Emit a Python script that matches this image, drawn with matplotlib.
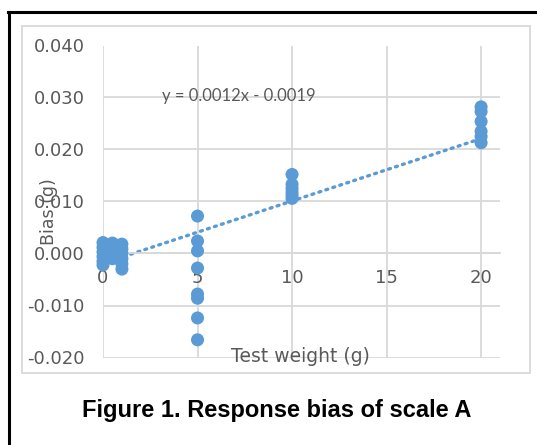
import matplotlib
matplotlib.use("Agg")
import matplotlib.pyplot as plt
from matplotlib.lines import Line2D
from matplotlib.patches import Rectangle
import numpy as np

# ---- data ----
x_w0 = [0, 0, 0, 0, 0, 0]
y_w0 = [0.0021, 0.0012, 0.0003, -0.0006, -0.0015, -0.0022]
x_w05 = [0.5, 0.5, 0.5, 0.5, 0.5]
y_w05 = [0.0020, 0.0012, 0.0004, -0.0004, -0.0010]
x_w1 = [1, 1, 1, 1, 1, 1]
y_w1 = [0.0018, 0.0009, 0.0000, -0.0010, -0.0020, -0.0030]
x_w5 = [5, 5, 5, 5, 5, 5, 5, 5]
y_w5 = [0.0072, 0.0024, 0.0005, -0.0028, -0.0078, -0.0086, -0.0124, -0.0166]
x_w10 = [10, 10, 10, 10, 10, 10]
y_w10 = [0.0152, 0.0133, 0.0125, 0.0118, 0.0112, 0.0106]
x_w20 = [20, 20, 20, 20, 20, 20]
y_w20 = [0.0282, 0.0273, 0.0254, 0.0235, 0.0225, 0.0213]

slope = 0.0012
intercept = -0.0019
trend_x = [0, 20]

x_ticks = [0, 5, 10, 15, 20]
y_ticks = [-0.020, -0.010, 0.000, 0.010, 0.020, 0.030, 0.040]
y_tick_labels = ["-0.020", "-0.010", "0.000", "0.010", "0.020", "0.030", "0.040"]

equation = "y = 0.0012x - 0.0019"
x_label = "Test weight (g)"
y_label = "Bias (g)"
title = "Figure 1. Response bias of scale A"

# ---- figure ----
W, H = 537, 445
fig = plt.figure(figsize=(W / 100, H / 100), dpi=100)

def fx(px):
    return px / W

def fy(py):
    return 1 - py / H

blue = "#5B9BD5"
grid = "#D9D9D9"
txt = "#595959"
font = ["DejaVu Sans"]

# outer black frame (left & top visible)
fig.add_artist(Line2D([fx(9), fx(9)], [fy(12), fy(445)], color="black", lw=2.2))
fig.add_artist(Line2D([fx(8), fx(537)], [fy(12), fy(12)], color="black", lw=2.2))
# chart area grey frame
fig.add_artist(Rectangle((fx(22), fy(373)), fx(530) - fx(22), fy(26) - fy(373),
                         fill=False, edgecolor=grid, lw=1.3))

left, right, top, bottom = 103, 500, 45.5, 357.5
ax = fig.add_axes([fx(left), fy(bottom), fx(right) - fx(left), fy(top) - fy(bottom)])
ax.set_xlim(0, 21)
ax.set_ylim(-0.020, 0.040)

for s in ["top", "right", "left"]:
    ax.spines[s].set_visible(False)
ax.spines["bottom"].set_position(("data", 0))
ax.spines["bottom"].set_color(grid)
ax.spines["bottom"].set_linewidth(1.3)

ax.set_xticks(x_ticks)
ax.set_xticklabels([str(v) for v in x_ticks], fontsize=13, color=txt, family=font)
ax.set_yticks(y_ticks)
ax.set_yticklabels(y_tick_labels, fontsize=13, color=txt, family=font)
ax.tick_params(axis="x", length=0, pad=11)
ax.tick_params(axis="y", length=0, pad=13)
ax.grid(True, color=grid, lw=1.3)
ax.set_axisbelow(True)

xs_all = [x_w0, x_w05, x_w1, x_w5, x_w10, x_w20]
ys_all = [y_w0, y_w05, y_w1, y_w5, y_w10, y_w20]
for xs, ys in zip(xs_all, ys_all):
    ax.scatter(xs, ys, s=88, color=blue, edgecolors="none", zorder=3, clip_on=False)

tx = np.array(trend_x, dtype=float)
ax.plot(tx, slope * tx + intercept, color=blue, lw=2.4,
        linestyle=(0, (0.6, 1.6)), dash_capstyle="round", zorder=2)

ax.text(7.2, 0.0303, equation, fontsize=12, color=txt, family=["Lato", "DejaVu Sans"],
        ha="center", va="center")

fig.text(fx(300), fy(357), x_label, fontsize=13.5, color=txt, family=font,
         ha="center", va="center")
fig.text(fx(49), fy(212), y_label, fontsize=12.5, color=txt, family=font,
         ha="center", va="center", rotation=90)

fig.text(fx(277), fy(411), title, fontsize=17, fontweight="bold",
         family=["Liberation Sans", "DejaVu Sans"], ha="center", va="center")

fig.savefig("out.png", dpi=100)
